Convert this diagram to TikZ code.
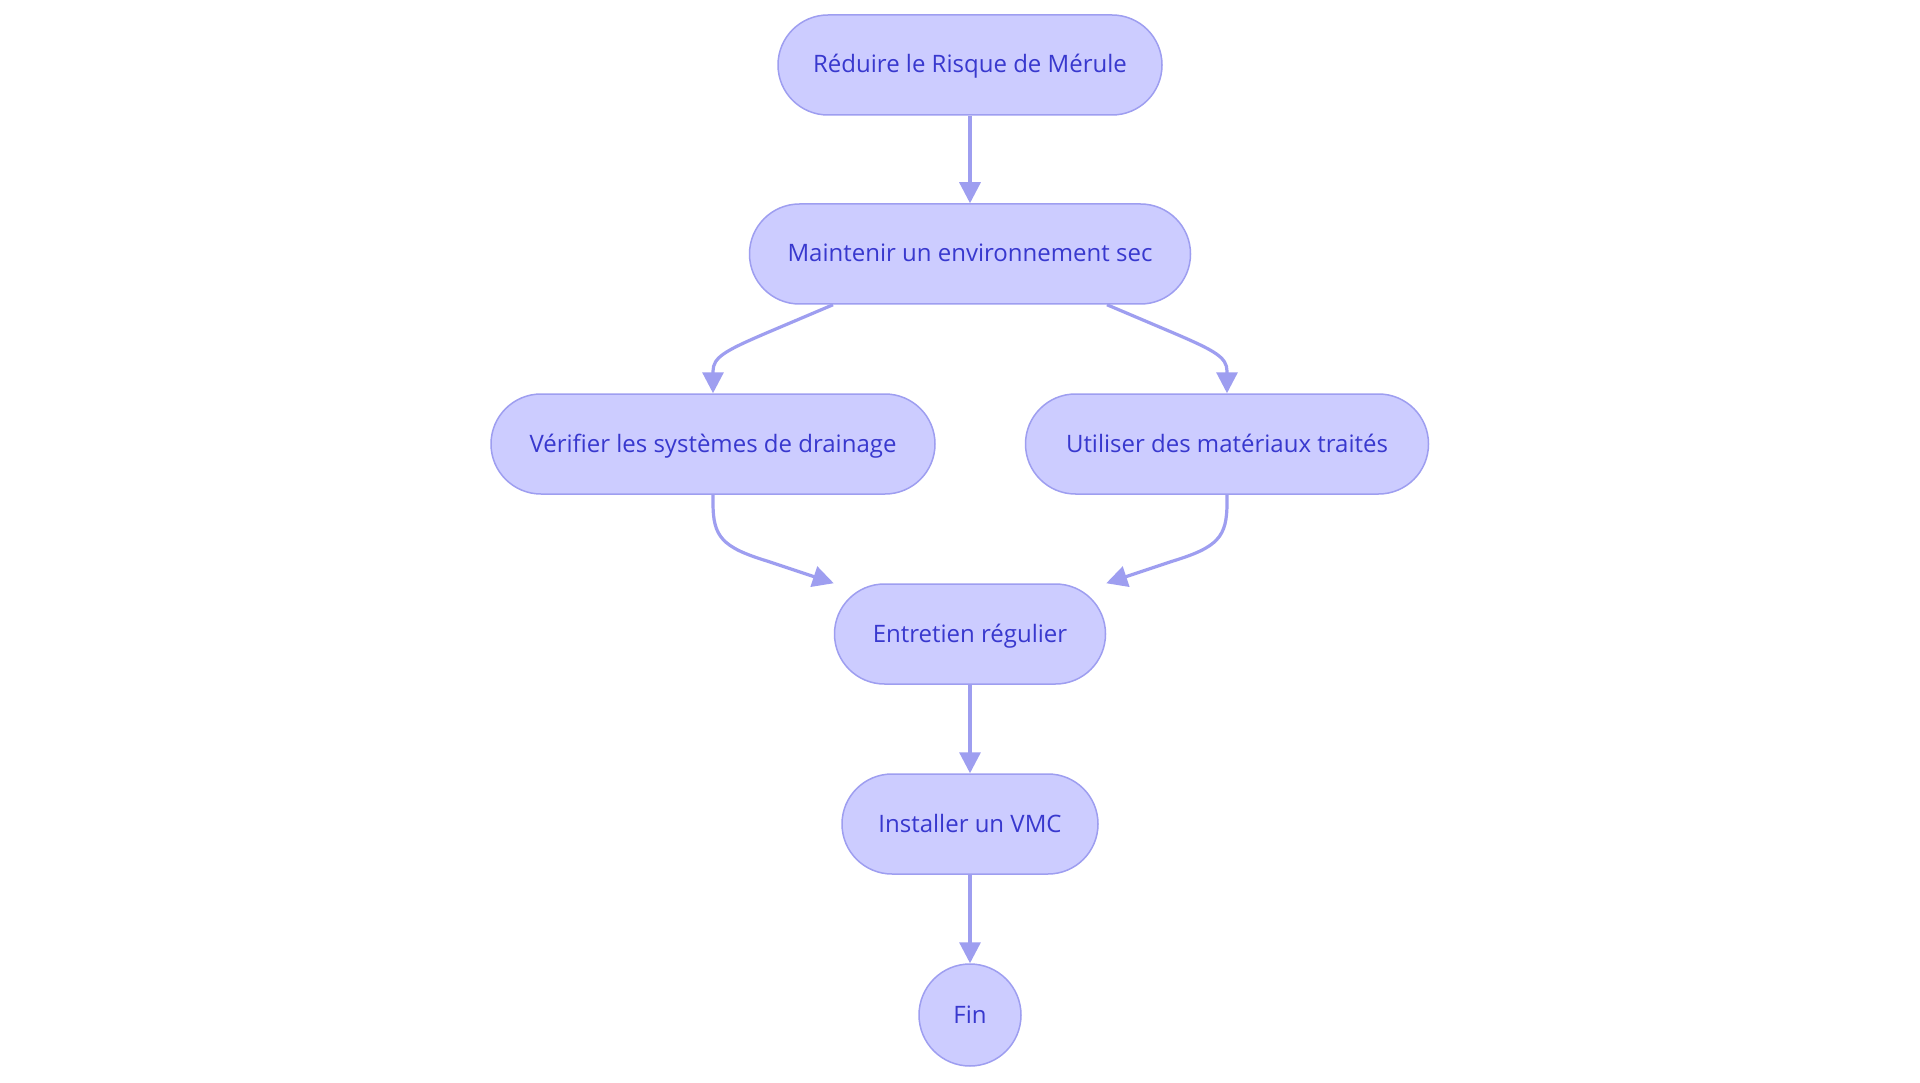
\documentclass[tikz,border=0pt]{standalone}
\usepackage{fontspec}
\setmainfont{Open Sans}
\usetikzlibrary{arrows.meta,calc}
\definecolor{nodefill}{HTML}{CCCCFF}
\definecolor{nodeline}{HTML}{9E9EF0}
\definecolor{nodetext}{HTML}{3838CE}
\definecolor{edgecol}{HTML}{9E9EF0}
\begin{document}
\begin{tikzpicture}[x=1pt,y=-1pt,
  txt/.style={text=nodetext,font=\fontsize{24}{28}\selectfont,text height=19pt,text depth=3pt},
  pill/.style={txt,draw=nodeline,fill=nodefill,line width=1.5pt,rounded corners=50pt,
    minimum height=100pt,inner sep=0pt},
  endcirc/.style={txt,circle,draw=nodeline,fill=nodefill,line width=1.5pt,minimum size=102pt,
    inner sep=0pt},
  flow/.style={draw=edgecol,line width=3.2pt,-{Triangle[length=21pt,width=21pt]}}]
\useasboundingbox[fill=white] (0,0) rectangle (1920,1083);
\node[pill,minimum width=384pt] (n1) at (970,65) {Réduire le Risque de Mérule};
\node[pill,minimum width=441pt] (n2) at (970,254) {Maintenir un environnement sec};
\node[pill,minimum width=444pt] (n3) at (713,444) {Vérifier les systèmes de drainage};
\node[pill,minimum width=403pt] (n4) at (1227,444) {Utiliser des matériaux traités};
\node[pill,minimum width=271pt] (n5) at (970,634) {Entretien régulier};
\node[pill,minimum width=256pt] (n6) at (970,824) {Installer un VMC};
\node[endcirc] (n7) at (970,1015) {Fin};
\coordinate (s23) at ($(n2.south)+(-137,0)$);
\coordinate (s24) at ($(n2.south)+(137,0)$);
\draw[flow] (n1) -- (n2);
\draw[flow] (s23) -- ++(-66,28) .. controls ++(-42,18) and ($(n3.north)+(0,-36)$) .. ($(n3.north)+(0,-22)$) -- (n3.north);
\draw[flow] (s24) -- ++(66,28) .. controls ++(42,18) and ($(n4.north)+(0,-36)$) .. ($(n4.north)+(0,-22)$) -- (n4.north);
\draw[flow] (n3.south) -- ++(0,8) .. controls ++(0,34) and ($(n5.north west)+(-112,-36)$) .. ($(n5.north west)+(-66,-22)$) -- (n5.north west);
\draw[flow] (n4.south) -- ++(0,8) .. controls ++(0,34) and ($(n5.north east)+(112,-36)$) .. ($(n5.north east)+(66,-22)$) -- (n5.north east);
\draw[flow] (n5) -- (n6);
\draw[flow] (n6) -- (n7);
\end{tikzpicture}
\end{document}
